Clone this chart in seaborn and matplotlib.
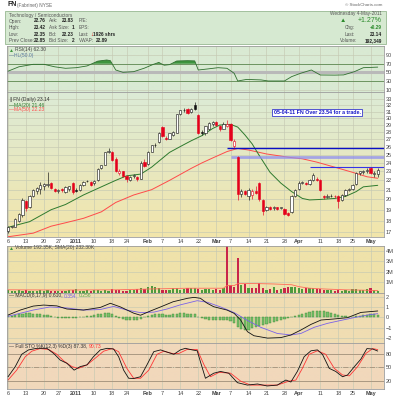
import numpy as np
import matplotlib.pyplot as plt
import matplotlib.ticker as mticker
from matplotlib.colors import LinearSegmentedColormap
from matplotlib.patches import Rectangle
import seaborn as sns

# FN daily candles, one entry per trading day from 6 Dec 2010 to 4 May 2011
opens = [17.05, 17.45, 17.45, 18.0, 18.5, 19.8, 19.3, 20.3, 20.9, 21.1,
         21.4, 21.45, 21.7, 21.1, 20.85, 21.1, 20.8, 21.1, 21.7, 21.0,
         21.0, 21.5, 21.9, 21.8, 21.7, 22.0, 23.4, 23.8, 25.4, 25.3,
         24.5, 22.8, 23.0, 22.5, 22.0, 22.5, 22.4, 22.2, 24.1, 23.9,
         25.4, 26.3, 26.6, 28.7, 27.2, 27.1, 27.6, 27.9, 30.6, 31.2,
         31.4, 30.9, 32.0, 30.5, 28.0, 27.8, 28.5, 29.2, 29.4, 28.8,
         28.5, 28.9, 29.2, 26.1, 24.7, 20.5, 20.9, 20.3, 20.4, 20.9,
         21.7, 19.9, 19.0, 19.3, 19.2, 19.25, 19.2, 19.1, 18.7, 18.8,
         20.3, 21.1, 21.75, 21.7, 21.6, 22.0, 22.2, 22.0, 20.3, 20.2,
         20.3, 20.3, 20.3, 19.9, 20.4, 21.0, 21.1, 21.6, 22.8, 22.9,
         23.0, 23.4, 22.7, 22.76]
highs = [17.5, 17.55, 18.2, 18.7, 20.1, 19.9, 20.4, 21.1, 21.3, 21.8,
         21.7, 22.9, 21.8, 21.2, 21.1, 21.2, 21.4, 21.4, 21.8, 21.2,
         21.6, 21.9, 22.0, 21.9, 22.0, 23.4, 23.8, 25.4, 25.9, 25.5,
         24.7, 23.3, 23.1, 22.6, 22.5, 22.7, 22.5, 24.2, 24.5, 25.5,
         26.3, 26.5, 28.0, 28.9, 27.4, 27.9, 28.1, 30.7, 31.3, 31.5,
         31.5, 31.6, 32.6, 30.6, 28.3, 28.9, 29.5, 29.6, 29.6, 29.0,
         29.4, 29.8, 29.3, 27.0, 24.8, 21.1, 21.0, 21.2, 21.1, 21.4,
         21.8, 20.0, 19.4, 19.4, 19.35, 19.3, 19.3, 19.2, 18.8, 20.4,
         21.1, 21.9, 21.9, 21.8, 22.1, 22.8, 22.4, 22.1, 20.4, 20.5,
         20.6, 20.4, 20.4, 20.5, 21.1, 21.2, 21.6, 22.9, 23.1, 23.2,
         23.4, 23.5, 23.1, 23.42]
lows = [16.95, 17.35, 17.4, 17.9, 18.3, 18.9, 19.2, 20.2, 20.6, 20.6,
        21.0, 21.3, 21.1, 20.8, 20.7, 20.8, 20.7, 20.9, 20.6, 20.8,
        20.9, 21.4, 21.8, 21.4, 21.5, 21.9, 23.3, 23.7, 25.2, 24.2,
        22.9, 22.6, 22.4, 21.8, 21.9, 22.3, 21.9, 22.1, 23.5, 23.8,
        25.3, 26.0, 26.5, 27.3, 26.9, 27.0, 27.5, 27.8, 30.5, 30.9,
        30.7, 30.8, 31.2, 27.7, 27.6, 27.6, 28.3, 28.9, 28.9, 28.1,
        28.4, 28.7, 26.8, 25.9, 19.9, 20.2, 20.4, 19.9, 20.0, 20.6,
        19.8, 18.5, 18.9, 19.0, 19.0, 19.0, 19.1, 18.5, 18.4, 18.7,
        20.2, 21.0, 21.6, 21.5, 21.5, 21.9, 21.9, 20.9, 20.0, 20.1,
        20.2, 20.1, 19.2, 19.8, 20.3, 20.9, 21.0, 21.5, 22.6, 22.7,
        22.8, 22.7, 22.4, 22.35]
closes = [17.4, 17.45, 18.1, 18.6, 19.9, 19.2, 20.3, 21.0, 21.2, 21.5,
          21.6, 21.65, 21.2, 20.85, 21.0, 20.95, 21.3, 21.35, 20.8, 20.9,
          21.5, 21.85, 21.9, 21.5, 21.9, 23.3, 23.7, 25.3, 25.45, 24.3,
          23.1, 23.0, 22.5, 22.1, 22.4, 22.5, 22.1, 24.0, 23.6, 25.4,
          26.2, 26.2, 27.9, 27.4, 27.1, 27.8, 28.0, 30.6, 31.2, 31.25,
          30.8, 31.4, 31.4, 27.8, 27.9, 28.8, 29.3, 29.4, 29.0, 28.4,
          29.2, 29.1, 26.9, 26.8, 20.6, 20.9, 20.5, 21.0, 20.9, 20.7,
          20.0, 18.9, 19.3, 19.1, 19.2, 19.1, 19.2, 18.6, 18.55, 20.3,
          21.0, 21.7, 21.75, 21.6, 22.0, 22.6, 22.0, 21.0, 20.2, 20.3,
          20.35, 20.3, 19.8, 20.4, 21.0, 21.1, 21.5, 22.8, 23.0, 23.1,
          23.2, 22.8, 22.85, 23.14]

# moving averages
ma20_day = [0, 6, 12, 16, 21, 26, 30, 33, 37, 40, 45, 49, 51, 54, 57, 59, 62, 64,
            66, 68, 70, 73, 76, 79, 82, 84, 87, 91, 94, 97, 99, 103]
ma20 = [17.4, 17.9, 19.0, 19.5, 20.45, 21.3, 22.0, 22.5, 22.7, 23.5, 25.3, 26.3,
        26.8, 27.5, 28.5, 29.0, 29.1, 28.7, 27.6, 26.4, 24.9, 22.9, 21.7, 20.8,
        20.1, 19.95, 20.0, 20.1, 20.3, 20.8, 21.3, 21.46]
ma50_day = [0, 7, 12, 16, 21, 26, 30, 35, 40, 45, 51, 54, 57, 61, 64, 67, 72, 78,
            82, 86, 91, 96, 100, 103]
ma50 = [16.6, 16.9, 17.5, 17.8, 18.2, 18.8, 19.7, 20.45, 21.0, 22.0, 23.35, 24.0,
        24.6, 25.4, 25.8, 25.6, 25.1, 24.7, 24.5, 24.1, 23.5, 22.9, 22.4, 22.23]

# horizontal lines drawn on the price panel
trend_level = [25.9, 24.7, 23.54]
trend_from = [61, 62, 84]

# RSI(14)
rsi_day = [0, 3, 7, 10, 13, 16, 19, 22, 25, 27.5, 28.5, 30, 32, 35, 38, 40.5, 42,
           43.5, 45, 47, 50, 52, 53, 55.5, 58.5, 61, 63, 64, 66.5, 70.5, 72.5, 77,
           79, 81.5, 84.5, 87, 91, 93.5, 96.5, 99, 103]
rsi = [53, 63, 68.7, 68.7, 63, 59.6, 61, 65, 76, 78.6, 77, 55.7, 50.4, 51.9, 60,
       68.7, 73, 66.6, 68, 76.3, 77, 76.5, 55.7, 58, 61, 59.6, 48.2, 30.6, 34.2,
       33, 30.6, 30.6, 40.5, 48.2, 55.7, 44.3, 44, 44.5, 51.9, 61, 62.3]

# volume in millions of shares, and its SMA(20)
volume = [0.25, 0.2, 0.15, 0.25, 0.2, 0.25, 0.2, 0.15, 0.2, 0.25,
          0.2, 0.3, 0.2, 0.15, 0.2, 0.15, 0.2, 0.25, 0.3, 0.4,
          0.15, 0.2, 0.25, 0.2, 0.3, 0.25, 0.2, 0.25, 0.2, 0.35,
          0.3, 0.25, 0.2, 0.2, 0.25, 0.3, 0.35, 0.45, 0.4, 0.55,
          0.7, 0.55, 0.5, 0.25, 0.3, 0.3, 0.5, 0.5, 0.3, 0.35,
          0.5, 0.45, 0.5, 0.4, 0.3, 0.35, 0.35, 0.3, 0.4, 0.3,
          0.5, 4.8, 0.75, 0.6, 3.3, 0.8, 0.85, 0.5, 0.45, 0.45,
          0.95, 0.5, 0.3, 0.35, 0.6, 0.3, 0.4, 0.45, 0.6, 0.6,
          0.55, 0.5, 0.4, 0.5, 0.5, 0.45, 0.4, 0.4, 0.25, 0.3,
          0.25, 0.2, 0.25, 0.2, 0.25, 0.2, 0.35, 0.4, 0.3, 0.25,
          0.35, 0.5, 0.3, 0.19]
vsma_day = [0, 15, 30, 40, 50, 60, 61, 63, 64, 68, 74, 79, 81, 84, 88, 94, 100, 103]
vsma = [0.3, 0.28, 0.3, 0.38, 0.45, 0.45, 0.7, 0.7, 0.88, 0.9, 0.85, 0.78, 0.6,
        0.45, 0.38, 0.3, 0.26, 0.23]

# MACD(8,17,9)
macd_day = [0, 3.4, 7, 9.9, 13.6, 16.4, 21, 25.7, 28.5, 31.3, 35, 36.9, 39.6, 42.5,
            46, 50, 51.8, 53.6, 55.5, 57.3, 61, 63, 64.8, 66.7, 68.5, 72.3, 76,
            78.8, 81.6, 84.4, 87.2, 90.8, 94.6, 98.3, 103]
macd = [0.22, 0.7, 1.08, 1.18, 1.1, 0.8, 0.7, 0.95, 1.35, 1.0, 0.4, 0.2, 0.6, 1.0,
        1.5, 1.83, 1.92, 1.83, 1.35, 1.02, 0.7, 0.38, -0.26, -1.38, -1.77, -2.0,
        -1.95, -1.7, -1.22, -0.68, -0.26, -0.16, -0.03, 0.47, 0.61]
signal_day = [0, 7, 11.7, 16.4, 21, 25.7, 29.4, 33.1, 36.9, 40.6, 44.3, 48, 52.7,
              55.5, 59.2, 63, 66.7, 70.4, 75, 78.8, 81.6, 85.3, 89, 92.7, 96.4,
              100.1, 103]
signal = [0.1, 0.7, 1.0, 0.9, 0.7, 0.75, 1.05, 0.7, 0.45, 0.5, 0.8, 1.2, 1.6, 1.45,
          1.0, 0.45, -0.3, -0.96, -1.55, -1.7, -1.55, -0.96, -0.58, -0.3, -0.03,
          0.22, 0.354]
macd_hist = [0.1, 0.15, 0.2, 0.3, 0.35, 0.4, 0.4, 0.35, 0.35, 0.3,
             0.25, 0.2, 0.15, 0.05, -0.05, -0.1, -0.1, -0.1, -0.1, -0.05,
             0.0, 0.05, 0.1, 0.15, 0.25, 0.3, 0.35, 0.4, 0.4, 0.3,
             0.15, -0.05, -0.15, -0.25, -0.3, -0.3, -0.25, -0.15, 0.0, 0.15,
             0.25, 0.3, 0.35, 0.3, 0.25, 0.25, 0.3, 0.35, 0.4, 0.4,
             0.35, 0.3, 0.3, 0.05, -0.1, -0.2, -0.25, -0.25, -0.25, -0.25,
             -0.25, -0.3, -0.4, -0.55, -0.9, -1.1, -1.25, -1.2, -1.05, -0.9,
             -0.85, -0.75, -0.65, -0.55, -0.45, -0.35, -0.25, -0.2, -0.1, 0.0,
             0.1, 0.2, 0.3, 0.4, 0.5, 0.6, 0.65, 0.65, 0.6, 0.5,
             0.4, 0.3, 0.2, 0.15, 0.1, 0.05, 0.05, 0.1, 0.15, 0.2,
             0.25, 0.3, 0.28, 0.26]

# Full STO %K(12,3) %D(3)
k_day = [0, 2, 3.8, 5.7, 8, 10.8, 12.7, 14.5, 16.4, 18.4, 20.1, 22, 23.8, 25.7,
         27.6, 29.4, 30.8, 32.2, 33.6, 35, 36.9, 38.7, 40.6, 42.5, 44.3, 46.2, 48,
         49.4, 51.3, 52.7, 53.6, 55, 57.3, 59.2, 61.5, 63.9, 66.7, 69.5, 72.2, 75,
         77.4, 78.8, 80.6, 82.5, 84.4, 86.2, 87.6, 89.5, 91.3, 93.2, 94.6, 96.5,
         98.3, 100, 101.6, 103]
k_val = [29, 52, 80, 90, 93.6, 93.6, 82, 67, 59.5, 44, 52, 56, 74.6, 90, 93.6, 92,
         74.6, 44, 25.5, 25, 29, 56, 86, 90, 85, 80, 90, 93.6, 90, 88, 63, 25.5, 37,
         41, 37, 15.5, 10, 12.5, 8, 10, 21.5, 17, 41, 74.6, 88, 90, 80, 48, 41, 29,
         33, 52, 69, 93, 92, 87.4]
d_day = [0, 2.4, 4.8, 6.6, 8.9, 11.3, 13.6, 15.5, 17.8, 19.6, 22, 24.8, 26.6, 29,
         30.8, 33.1, 35, 36.9, 39.2, 41.5, 43.4, 45.7, 47.6, 49.9, 52.7, 54.6,
         56.4, 58.8, 62, 64.8, 67.6, 71.3, 75, 78.3, 80.2, 82, 83.9, 86.2, 88.5,
         90.9, 93.2, 95.1, 97.4, 99.7, 101.6, 103]
d_val = [21.5, 44, 74.6, 87, 93, 91, 80, 65, 52, 48, 56, 74.6, 87, 93, 86, 48, 25.5,
         25.5, 44, 80, 87, 82, 82, 91, 91, 56, 29, 39, 37, 19, 10, 10, 10, 19, 21.5,
         48, 80, 88, 80, 48, 33, 31, 52, 82, 93, 90.73]

# date axis
tick_day = [0, 5, 10, 14, 19, 24, 29, 33, 39, 43, 48, 53, 58, 62, 67, 72, 77, 81,
            87, 92, 96, 101]
tick_text = ['6', '13', '20', '27', '2011', '10', '18', '24', 'Feb', '7', '14', '22',
             'Mar', '7', '14', '21', '28', 'Apr', '11', '18', '25', 'May']
price_ticks = list(range(17, 34))

sns.set_theme(style='white')
plt.rcParams['font.family'] = ['Liberation Sans', 'DejaVu Sans']

W = 400.0
FS = 4
HS = 3.4   # header font


def rect(x0, y0, x1, y1):
    return [x0 / W, 1 - y1 / W, (x1 - x0) / W, (y1 - y0) / W]


def ftext(x, y, s, **kw):
    kw.setdefault('fontsize', FS)
    kw.setdefault('va', 'center')
    return fig.text(x / W, 1 - y / W, s, **kw)


def chain(x, y, parts, size=3.6):
    # put several coloured pieces of text one after another on a line
    r = fig.canvas.get_renderer()
    for s, col in parts:
        t = ftext(x, y, s, color=col, fontsize=size)
        bb = t.get_window_extent(renderer=r)
        x += bb.width * W / fig.bbox.width + 1.2


fig = plt.figure(figsize=(4, 4), dpi=100)
fig.patch.set_facecolor('white')

# background colour for each panel
panels = {
    'rsi': ((7, 46, 384, 92), ['#d9ead3', '#d9ead3']),
    'price': ((7, 92, 384, 237), ['#f2e5ab', '#dcebd6']),
    'vol': ((7, 246, 384, 293), ['#efe2aa', '#efe2aa']),
    'macd': ((7, 293, 384, 343), ['#f0ddb2', '#f0ddb2']),
    'sto': ((7, 343, 384, 389), ['#f1d8bb', '#f1d8bb']),
}
axes = {}
for name, (r, cols) in panels.items():
    bg = fig.add_axes(rect(*r))
    cmap = LinearSegmentedColormap.from_list(name, cols)
    bg.imshow(np.linspace(0, 1, 128).reshape(-1, 1), cmap=cmap, origin='lower',
              aspect='auto', extent=[0, 1, 0, 1])
    bg.axis('off')
    ax = fig.add_axes(rect(*r))
    ax.set_facecolor('none')
    axes[name] = ax

ax_rsi, ax_p, ax_v, ax_m, ax_s = (axes[k] for k in ['rsi', 'price', 'vol', 'macd', 'sto'])

days = np.arange(len(closes))
o, h, l, c = (np.array(v) for v in (opens, highs, lows, closes))
prev = np.r_[o[0], c[:-1]]
down = c < prev

# ---- RSI ----
ax_rsi.axhline(50, color='#b9b9b9', lw=2.2, zorder=1)
ax_rsi.axhline(70, color='#5d8a52', lw=0.6, zorder=1)
ax_rsi.axhline(30, color='#5d8a52', lw=0.6, zorder=1)
sns.lineplot(x=rsi_day, y=rsi, ax=ax_rsi, color='#2f6f2f', lw=0.6, zorder=3)
rx, ry = np.array(rsi_day), np.array(rsi)
ax_rsi.fill_between(rx, ry, 70, where=ry > 70, interpolate=True, color='#3e953e', lw=0, zorder=2)
ax_rsi.fill_between(rx, ry, 30, where=ry < 30, interpolate=True, color='#3e953e', lw=0, zorder=2)
ax_rsi.set_ylim(5.4, 110.6)
ax_rsi.set_yticks([10, 30, 50, 70, 90])

# ---- price ----
ax_p.set_yscale('log')
sns.lineplot(x=ma50_day, y=ma50, ax=ax_p, color='#ff4a4a', lw=0.7, zorder=2)
sns.lineplot(x=ma20_day, y=ma20, ax=ax_p, color='#2e7a2e', lw=0.7, zorder=2)
for lvl, start, col, lw, a in zip(trend_level, trend_from,
                                  ['#0a0fc4', '#8f8ff0', '#3434e6'],
                                  [1.0, 2.0, 0.8], [1, 0.75, 1]):
    ax_p.plot([start, 104.75], [lvl, lvl], color=col, lw=lw, alpha=a, zorder=3,
              solid_capstyle='butt')
ccol = np.where(down, '#e4001b', '#111111')
ax_p.vlines(days, l, h, colors=ccol, lw=0.45, zorder=4)
body_lo = np.minimum(o, c)
body_h = np.maximum(np.abs(c - o), 0.05)
fill = np.where(c >= o, '#ffffff', ccol)
ax_p.bar(days, body_h, bottom=body_lo, width=0.62, color=fill, edgecolor=ccol,
         lw=0.4, zorder=5)
ax_p.set_ylim(16.58, 34.2)
ax_p.yaxis.set_major_locator(mticker.FixedLocator(price_ticks))
ax_p.yaxis.set_major_formatter(mticker.FixedFormatter([str(t) for t in price_ticks]))
ax_p.yaxis.set_minor_locator(mticker.NullLocator())

# ---- volume ----
vcol = np.where(down, '#c9264a', '#4c9a3e')
ax_v.bar(days, volume, width=0.62, color=vcol, lw=0, zorder=2)
sns.lineplot(x=vsma_day, y=vsma, ax=ax_v, color='#ff6a5a', lw=0.6, zorder=3)
ax_v.set_ylim(0, 4.43)
ax_v.set_yticks([1, 2, 3, 4])
ax_v.set_yticklabels(['1M', '2M', '3M', '4M'])

# ---- MACD ----
ax_m.bar(days, macd_hist, width=0.62, color='#78c06a', edgecolor='#3d8a35', lw=0.3,
         zorder=2)
sns.lineplot(x=signal_day, y=signal, ax=ax_m, color='#7a62e8', lw=0.6, zorder=3)
sns.lineplot(x=macd_day, y=macd, ax=ax_m, color='#111111', lw=0.6, zorder=4)
ax_m.set_ylim(-2.47, 2.34)
ax_m.set_yticks([-2, -1, 0, 1, 2])

# ---- STO ----
ax_s.axhline(80, color='#a5907a', lw=0.6, zorder=1)
ax_s.axhline(20, color='#a5907a', lw=0.6, zorder=1)
ax_s.axhline(50, color='#a5907a', lw=0.6, ls='-.', zorder=1)
sns.lineplot(x=d_day, y=d_val, ax=ax_s, color='#ff3535', lw=0.6, zorder=2)
sns.lineplot(x=k_day, y=k_val, ax=ax_s, color='#111111', lw=0.6, zorder=3)
ax_s.set_ylim(1.1, 105.7)
ax_s.set_yticks([20, 50, 80])

for ax in axes.values():
    ax.set_xlim(-0.3, 104.75)
    ax.set_xticks(tick_day)
    ax.set_xlabel('')
    ax.set_ylabel('')
    ax.grid(True, color='#c5c9b3', lw=0.45, zorder=0)
    ax.set_axisbelow(True)
    ax.yaxis.tick_right()
    ax.tick_params(axis='y', length=0, labelsize=FS, pad=1.5, labelcolor='#444444')
    ax.tick_params(axis='x', length=0, labelbottom=False)
    for sp in ax.spines.values():
        sp.set_color('#9c9c9c')
        sp.set_linewidth(0.6)

for ax in (ax_p, ax_s):
    ax.tick_params(axis='x', labelbottom=True, labelsize=FS, pad=1.2,
                   labelcolor='#444444')
    ax.set_xticklabels(tick_text)
    for t in ax.get_xticklabels():
        if not t.get_text().isdigit() or t.get_text() == '2011':
            t.set_fontweight('bold')

# ---- panel legends ----
chain(9, 50, [('\u25b2', '#3e953e'), ('RSI(14) 62.30', '#444444')])
chain(9, 55.5, [('\u2014HL(50.0)', '#5a7aa0')])
chain(9, 100, [('\u2759FN (Daily) 23.14', '#333333')])
chain(9, 105, [('\u2014MA(20) 21.46', '#2e7a2e')])
chain(9, 110, [('\u2014MA(50) 22.23', '#ff4a4a')])
ftext(317, 112.5, '05-04-11 FN Over 23.54 for a trade.', ha='center', color='#1414c8',
      fontweight='bold', fontsize=3.8,
      bbox=dict(fc='white', ec='#1414c8', lw=0.5, pad=0.8))
chain(9, 248, [('\u25b2', '#3e953e'), ('Volume 192.35K, SMA(20) 232.30K', '#444444')])
chain(9, 295.5, [('\u2014 MACD(8,17,9) 0.610,', '#333333'), ('0.354,', '#7a62e8'),
                 ('0.256', '#5aa84a')])
chain(9, 346.5, [('\u2014 Full STO %K(12,3) %D(3) 87.38,', '#333333'),
                 ('90.73', '#ff3535')])

# ---- header ----
ftext(7, 5, 'FN', fontsize=5, fontweight='bold', color='#222222')
ftext(17, 5, '(Fabrinet) NYSE', fontsize=3.4, color='#666666')
ftext(382, 5, '\u00a9 StockCharts.com', fontsize=3.2, color='#666666', ha='right')
fig.add_artist(Rectangle((5 / W, 1 - 44 / W), 381 / W, 33 / W, transform=fig.transFigure,
                         facecolor='#d6e9d1', edgecolor='#97b892', lw=0.6, zorder=0))
ftext(9, 15, 'Technology / Semiconductors', color='#555555', fontsize=HS)
rows_y = [21, 27.5, 34, 40.5]
for y, a, av, b, bv, cl in zip(rows_y,
                               ['Open:', 'High:', 'Low:', 'Prev Close:'],
                               ['22.76', '23.42', '22.35', '22.85'],
                               ['Ask:', 'Ask Size:', 'Bid:', 'Bid Size:'],
                               ['23.83', '1', '22.23', '2'],
                               ['P/E:', 'EPS:', 'Last:', 'VWAP:']):
    ftext(9, y, a, color='#555555', fontsize=HS)
    ftext(46, y, av, color='#222222', fontweight='bold', ha='right', fontsize=HS)
    ftext(49, y, b, color='#555555', fontsize=HS)
    ftext(74, y, bv, color='#222222', fontweight='bold', ha='right', fontsize=HS)
    ftext(79, y, cl, color='#555555', fontsize=HS)
ftext(90, 34, '\u2193', color='#dd0000', fontweight='bold', fontsize=4)
ftext(93, 34, '1926 shrs', color='#222222', fontweight='bold', fontsize=HS)
ftext(108, 40.5, '22.89', color='#222222', fontweight='bold', ha='right', fontsize=HS)
ftext(382, 14, 'Wednesday 4-May-2011', color='#555555', ha='right', fontsize=HS)
ftext(340, 21, '\u25b2', color='#2c8a2c', fontsize=4.6)
ftext(382, 21, '+1.27%', color='#2c8a2c', fontsize=5, ha='right')
ftext(345, 27.5, 'Chg:', color='#555555', fontsize=HS)
ftext(382, 27.5, '+0.29', color='#2c8a2c', fontweight='bold', ha='right', fontsize=HS)
ftext(345, 34, 'Last:', color='#555555', fontsize=HS)
ftext(382, 34, '23.14', color='#222222', fontweight='bold', ha='right', fontsize=HS)
ftext(340, 40.5, 'Volume:', color='#555555', fontsize=HS)
ftext(382, 40.5, '192,349', color='#222222', fontweight='bold', ha='right', fontsize=HS)

fig.savefig('out.png', dpi=100)
